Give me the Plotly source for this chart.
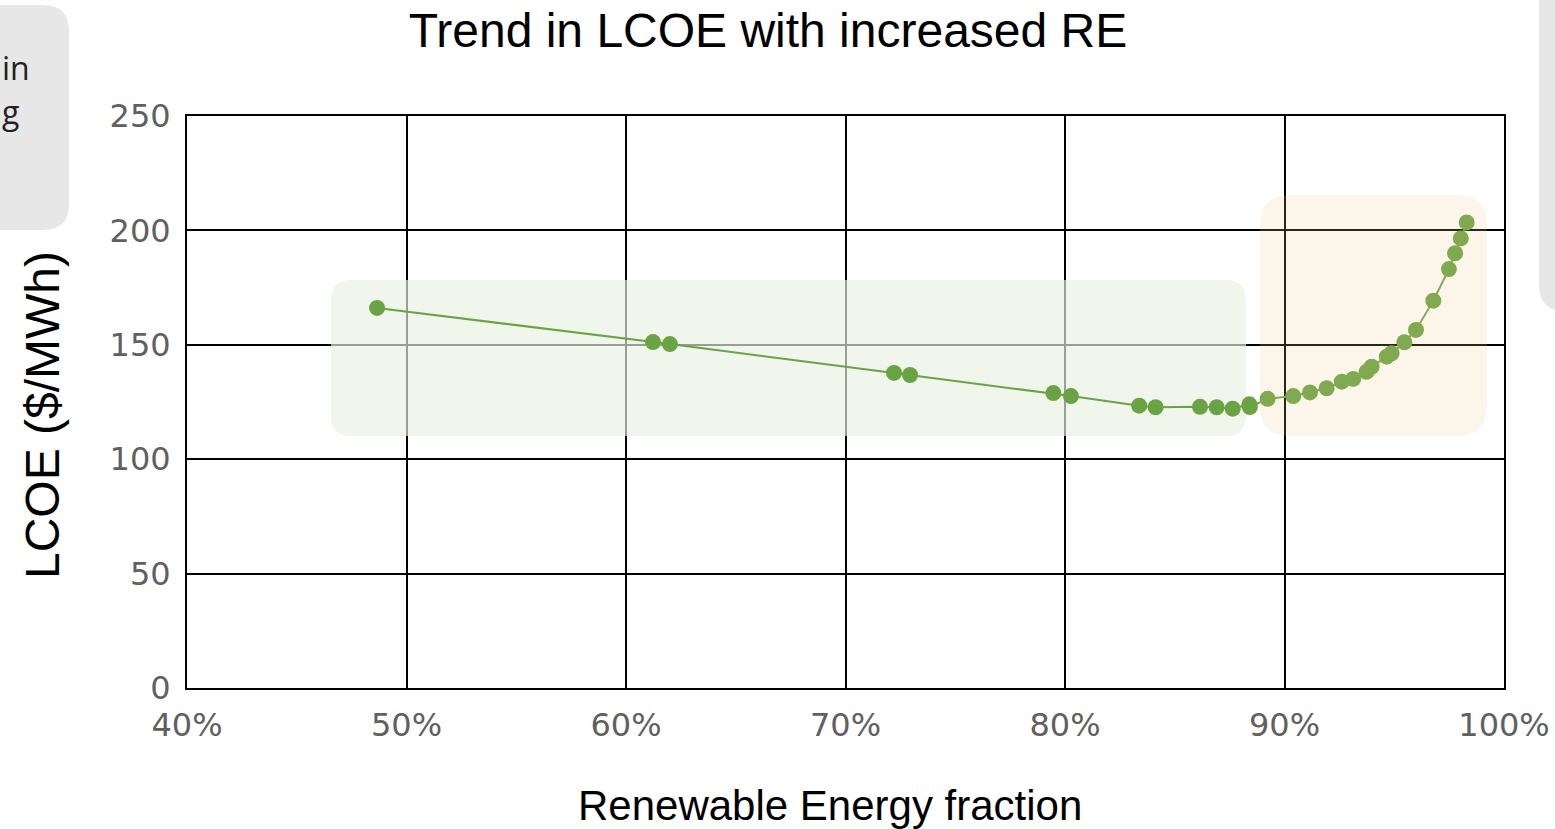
import plotly.graph_objects as go

# Renewable energy share of generation (fraction) and resulting LCOE ($/MWh)
re_fraction = [0.4866, 0.6123, 0.6200, 0.7221, 0.7294, 0.7947, 0.8027,
               0.8338, 0.8413, 0.8615, 0.8691, 0.8764, 0.8840, 0.8842,
               0.8923, 0.9040, 0.9116, 0.9192, 0.9261, 0.9313, 0.9374,
               0.9397, 0.9466, 0.9488, 0.9546, 0.9599, 0.9678, 0.9749,
               0.9777, 0.9803, 0.9830]
lcoe = [166.1, 151.2, 150.3, 137.7, 136.8, 128.9, 127.6,
        123.4, 122.7, 122.9, 122.7, 122.1, 124.0, 122.8,
        126.4, 127.6, 129.2, 131.0, 133.9, 135.1, 138.2,
        140.4, 144.8, 146.3, 151.1, 156.5, 169.3, 183.1,
        190.0, 196.5, 203.5]

x_ticks = [0.4, 0.5, 0.6, 0.7, 0.8, 0.9, 1.0]
y_ticks = [0, 50, 100, 150, 200, 250]
X_RANGE = [0.4, 1.0]
Y_RANGE = [0, 250]

W, H = 1555, 829
L, R, T, B = 187, 51, 116, 141
PW, PH = W - L - R, H - T - B

GREEN = "#6aa344"


def px2paper(px, py):
    return (px - L) / PW, (H - B - py) / PH


def px2data(px, py):
    a, b = px2paper(px, py)
    return (X_RANGE[0] + a * (X_RANGE[1] - X_RANGE[0]),
            Y_RANGE[0] + b * (Y_RANGE[1] - Y_RANGE[0]))


def rounded_rect(x0, y0, x1, y1, r, conv):
    """Rounded rectangle path from pixel corners, converted with `conv`."""
    def p(x, y):
        a, b = conv(x, y)
        return f"{a:.5f},{b:.5f}"
    return (f"M {p(x0 + r, y0)} L {p(x1 - r, y0)} Q {p(x1, y0)} {p(x1, y0 + r)} "
            f"L {p(x1, y1 - r)} Q {p(x1, y1)} {p(x1 - r, y1)} "
            f"L {p(x0 + r, y1)} Q {p(x0, y1)} {p(x0, y1 - r)} "
            f"L {p(x0, y0 + r)} Q {p(x0, y0)} {p(x0 + r, y0)} Z")


fig = go.Figure()
fig.add_trace(go.Scatter(
    x=re_fraction, y=lcoe, mode="lines+markers",
    line=dict(color=GREEN, width=2),
    marker=dict(color=GREEN, size=16),
    hoverinfo="x+y", showlegend=False,
))

shapes = [
    # neighbouring side panels
    dict(type="path", xref="paper", yref="paper", layer="below",
         path=rounded_rect(-40, 5, 69, 230, 26, px2paper),
         fillcolor="#e7e7e7", line=dict(width=0)),
    dict(type="path", xref="paper", yref="paper", layer="below",
         path=rounded_rect(1539, -30, 1600, 311, 26, px2paper),
         fillcolor="#e7e7e7", line=dict(width=0)),
    # flat region highlight (over the grid, under the data)
    dict(type="path", xref="x", yref="y", layer="between",
         path=rounded_rect(331, 280, 1246, 436, 20, px2data),
         fillcolor="rgba(232,241,226,0.66)", line=dict(width=0)),
    # steep region highlight
    dict(type="path", xref="x", yref="y", layer="above",
         path=rounded_rect(1260, 195, 1487, 436, 30, px2data),
         fillcolor="rgba(240,205,139,0.18)", line=dict(width=0)),
]

annotations = [
    dict(text="LCOE ($/MWh)", xref="paper", yref="paper",
         x=px2paper(42, 415)[0], y=px2paper(42, 415)[1],
         textangle=-90, showarrow=False, xanchor="center", yanchor="middle",
         font=dict(family="Liberation Sans, Arial", size=48, color="#000000")),
    dict(text="Renewable Energy fraction", xref="paper", yref="paper",
         x=px2paper(830, 805)[0], y=px2paper(830, 805)[1],
         showarrow=False, xanchor="center", yanchor="middle",
         font=dict(family="Liberation Sans, Arial", size=42, color="#000000")),
    dict(text="in", xref="paper", yref="paper",
         x=px2paper(0, 68)[0], y=px2paper(0, 68)[1],
         showarrow=False, xanchor="left", yanchor="middle",
         font=dict(family="Open Sans", size=32, color="#222222")),
    dict(text="g", xref="paper", yref="paper",
         x=px2paper(0, 112)[0], y=px2paper(0, 112)[1],
         showarrow=False, xanchor="left", yanchor="middle",
         font=dict(family="Open Sans", size=32, color="#222222")),
]

fig.update_layout(
    width=W, height=H,
    margin=dict(l=L, r=R, t=T, b=B, autoexpand=False),
    paper_bgcolor="white", plot_bgcolor="white",
    title=dict(text="Trend in LCOE with increased RE",
               xref="container", yref="container",
               x=768 / W, y=1 - 30 / H, xanchor="center", yanchor="middle",
               font=dict(family="Liberation Sans, Arial", size=48, color="#000000")),
    shapes=shapes,
    annotations=annotations,
    xaxis=dict(range=X_RANGE, tickvals=x_ticks, tickformat=".0%",
               showgrid=True, gridcolor="#000000", gridwidth=2,
               showline=True, linecolor="#000000", linewidth=2, mirror=True,
               zeroline=False, ticks="", ticklabelstandoff=8, automargin=False,
               tickfont=dict(family="DejaVu Sans", size=32, color="#606060")),
    yaxis=dict(range=Y_RANGE, tickvals=y_ticks,
               showgrid=True, gridcolor="#000000", gridwidth=2,
               showline=True, linecolor="#000000", linewidth=2, mirror=True,
               zeroline=False, ticks="", ticklabelstandoff=8, automargin=False,
               tickfont=dict(family="DejaVu Sans", size=32, color="#606060")),
)

fig.write_html("out.html")
